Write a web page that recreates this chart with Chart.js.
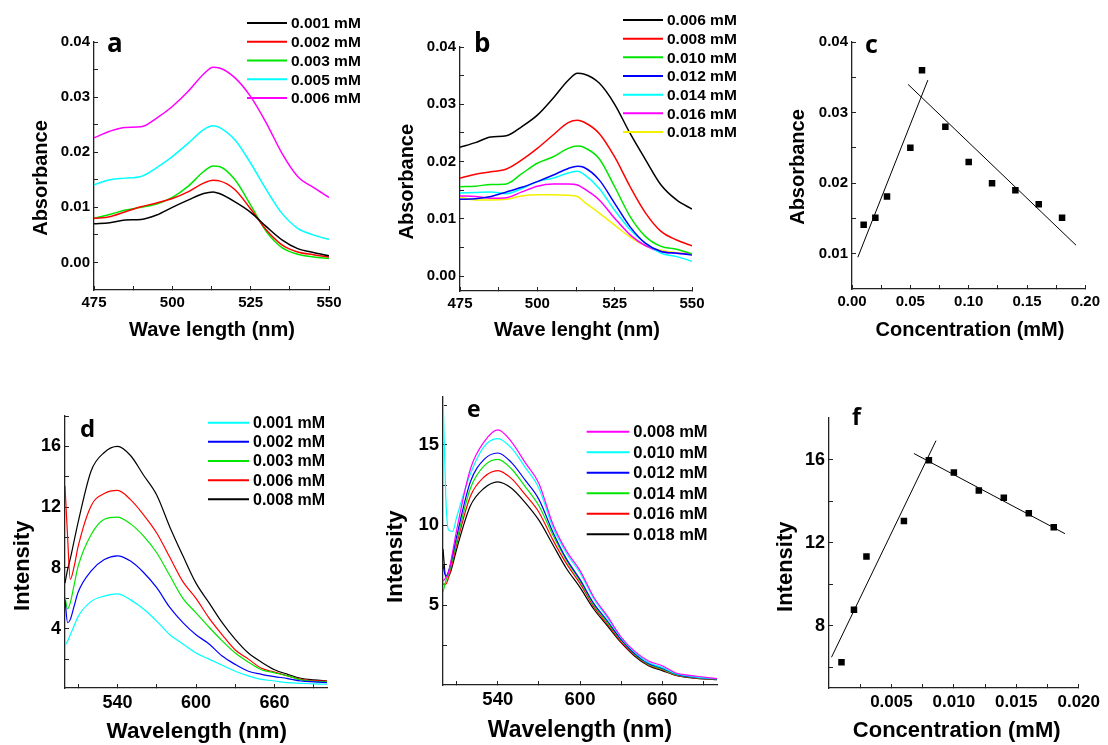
<!DOCTYPE html>
<html>
<head>
<meta charset="utf-8">
<script src="https://cdn.jsdelivr.net/npm/chart.js@4"></script>
<style>
    body {margin: 0; background: #fff;}
    #fig {position: relative; width: 1108px; height: 745px; overflow: hidden; background: #fff;}
    canvas {position: absolute;}
</style>
</head>
<body>
<div id="fig">
    <canvas id="pa" width="370" height="345" style="left:0;top:0"></canvas>
    <canvas id="pb" width="370" height="345" style="left:370px;top:0"></canvas>
    <canvas id="pc" width="368" height="345" style="left:740px;top:0"></canvas>
    <canvas id="pd" width="370" height="375" style="left:0;top:370px"></canvas>
    <canvas id="pe" width="370" height="375" style="left:370px;top:370px"></canvas>
    <canvas id="pf" width="368" height="375" style="left:740px;top:370px"></canvas>
</div>
<script>
const FONT = '"Liberation Sans", Arial, sans-serif';

// panel a / b : absorbance spectra
const wlAB = [475, 480, 485, 490, 495, 500, 505, 510, 513, 515, 520, 525, 530, 535, 540, 545, 550];
const a001 = [0.0070, 0.0072, 0.0077, 0.0078, 0.0086, 0.0100, 0.0113, 0.0125, 0.0128, 0.0125, 0.0110, 0.0091, 0.0065, 0.0041, 0.0025, 0.0018, 0.0012];
const a002 = [0.0080, 0.0083, 0.0092, 0.0101, 0.0108, 0.0116, 0.0128, 0.0144, 0.0149, 0.0148, 0.0132, 0.0097, 0.0059, 0.0032, 0.0019, 0.0014, 0.0010];
const a003 = [0.0080, 0.0087, 0.0095, 0.0100, 0.0106, 0.0118, 0.0138, 0.0165, 0.0175, 0.0174, 0.0150, 0.0104, 0.0056, 0.0027, 0.0015, 0.0010, 0.0007];
const a005 = [0.0141, 0.0150, 0.0153, 0.0156, 0.0172, 0.0192, 0.0216, 0.0241, 0.0248, 0.0245, 0.0222, 0.0180, 0.0132, 0.0089, 0.0062, 0.0050, 0.0042];
const a006 = [0.0226, 0.0238, 0.0245, 0.0246, 0.0262, 0.0283, 0.0310, 0.0342, 0.0354, 0.0353, 0.0335, 0.0301, 0.0253, 0.0198, 0.0156, 0.0136, 0.0118];

const b006 = [0.0225, 0.0233, 0.0243, 0.0245, 0.0261, 0.0281, 0.0310, 0.0342, 0.0354, 0.0353, 0.0337, 0.0300, 0.0249, 0.0203, 0.0159, 0.0133, 0.0117];
const b008 = [0.0171, 0.0178, 0.0182, 0.0187, 0.0203, 0.0223, 0.0246, 0.0268, 0.0272, 0.0269, 0.0249, 0.0208, 0.0156, 0.0110, 0.0078, 0.0063, 0.0053];
const b010 = [0.0156, 0.0157, 0.0160, 0.0161, 0.0179, 0.0197, 0.0208, 0.0223, 0.0227, 0.0225, 0.0205, 0.0156, 0.0104, 0.0069, 0.0052, 0.0047, 0.0039];
const b012 = [0.0134, 0.0135, 0.0139, 0.0147, 0.0155, 0.0165, 0.0176, 0.0188, 0.0192, 0.0190, 0.0168, 0.0127, 0.0086, 0.0057, 0.0043, 0.0040, 0.0037];
const b014 = [0.0145, 0.0146, 0.0147, 0.0144, 0.0153, 0.0165, 0.0171, 0.0180, 0.0183, 0.0178, 0.0153, 0.0115, 0.0081, 0.0057, 0.0040, 0.0034, 0.0026];
const b016 = [0.0140, 0.0139, 0.0136, 0.0137, 0.0147, 0.0157, 0.0161, 0.0161, 0.0159, 0.0153, 0.0133, 0.0101, 0.0072, 0.0053, 0.0043, 0.0040, 0.0039];
const b018 = [0.0138, 0.0133, 0.0133, 0.0134, 0.0140, 0.0142, 0.0142, 0.0141, 0.0139, 0.0130, 0.0110, 0.0089, 0.0068, 0.0053, 0.0045, 0.0041, 0.0039];

// panel c : absorbance vs concentration
const concC = [0.01, 0.02, 0.03, 0.05, 0.06, 0.08, 0.10, 0.12, 0.14, 0.16, 0.18];
const absC = [0.0141, 0.0151, 0.0181, 0.0250, 0.0360, 0.0280, 0.0230, 0.0200, 0.0190, 0.0170, 0.0151];
const fitC1x = [0.005, 0.065];
const fitC1y = [0.0095, 0.0346];
const fitC2x = [0.048, 0.192];
const fitC2y = [0.0340, 0.0112];

// panel d : emission spectra
const wlD = [500, 502, 504, 507, 510, 520, 530, 540, 550, 560, 570, 580, 590, 600, 610, 620, 630, 640, 650, 660, 670, 680, 690, 700];
const d001 = [2.9, 3.2, 3.6, 4.2, 4.8, 5.8, 6.15, 6.3, 5.9, 5.3, 4.5, 3.6, 3.0, 2.4, 2.0, 1.6, 1.2, 0.9, 0.67, 0.56, 0.45, 0.41, 0.37, 0.35];
const d002 = [5.9, 4.4, 4.6, 5.5, 6.4, 7.8, 8.55, 8.8, 8.45, 7.7, 6.7, 5.4, 4.4, 3.6, 3.0, 2.2, 1.65, 1.2, 1.0, 0.85, 0.72, 0.56, 0.5, 0.45];
const d003 = [6.1, 5.3, 5.7, 6.9, 8.1, 10.2, 11.2, 11.35, 10.9, 10.1, 9.0, 7.5, 6.0, 5.05, 4.1, 3.2, 2.4, 1.8, 1.3, 1.1, 0.9, 0.63, 0.54, 0.5];
const d006 = [13.4, 10.0, 7.25, 8.1, 9.4, 12.1, 12.9, 13.1, 12.5, 11.5, 10.3, 8.7, 7.1, 6.0, 4.7, 3.6, 2.6, 2.0, 1.4, 1.15, 0.9, 0.67, 0.58, 0.55];
const d008 = [7.0, 7.9, 8.6, 9.8, 11.0, 14.4, 15.6, 16.0, 15.4, 14.1, 12.8, 10.7, 8.8, 7.0, 5.7, 4.4, 3.3, 2.4, 1.8, 1.3, 1.0, 0.74, 0.63, 0.56];

// panel e : emission spectra
const wlE = [500, 502, 504, 507, 510, 520, 530, 540, 550, 560, 570, 580, 590, 600, 610, 620, 630, 640, 650, 660, 670, 680, 690, 700];
const e008 = [6.5, 6.7, 7.0, 8.3, 9.7, 13.5, 15.2, 15.95, 15.2, 13.9, 12.6, 10.1, 8.4, 7.15, 5.5, 4.3, 3.0, 2.1, 1.5, 1.2, 0.75, 0.6, 0.5, 0.4];
const e010 = [18.3, 11.8, 9.7, 9.6, 10.5, 13.2, 14.9, 15.4, 14.8, 13.6, 12.3, 9.9, 8.25, 7.0, 5.4, 4.2, 2.95, 2.05, 1.4, 1.1, 0.7, 0.55, 0.45, 0.4];
const e012 = [7.5, 6.8, 7.1, 8.1, 9.3, 12.7, 14.1, 14.5, 13.9, 12.8, 11.6, 9.6, 7.9, 6.6, 5.1, 4.0, 2.85, 1.95, 1.35, 1.05, 0.68, 0.52, 0.43, 0.38];
const e014 = [5.8, 6.5, 6.9, 7.9, 9.0, 12.3, 13.7, 14.1, 13.5, 12.4, 11.2, 9.4, 7.8, 6.5, 5.0, 3.9, 2.8, 1.9, 1.3, 1.0, 0.65, 0.5, 0.42, 0.37];
const e016 = [6.3, 6.3, 6.7, 7.7, 8.8, 11.8, 13.0, 13.4, 12.9, 11.9, 10.8, 9.1, 7.6, 6.35, 4.9, 3.8, 2.7, 1.85, 1.25, 0.95, 0.62, 0.48, 0.40, 0.35];
const e018 = [8.5, 6.8, 6.8, 7.5, 8.5, 11.2, 12.3, 12.7, 12.3, 11.4, 10.3, 8.8, 7.3, 6.1, 4.75, 3.7, 2.65, 1.8, 1.2, 0.9, 0.6, 0.46, 0.38, 0.33];

// panel f : intensity vs concentration
const concF = [0.001, 0.002, 0.003, 0.006, 0.008, 0.010, 0.012, 0.014, 0.016, 0.018];
const intF = [6.24, 8.77, 11.33, 13.04, 15.97, 15.38, 14.51, 14.16, 13.41, 12.74];
const fitF1x = [0.0002, 0.00857];
const fitF1y = [6.48, 16.91];
const fitF2x = [0.0068, 0.0189];
const fitF2y = [16.29, 12.43];

const BLACK = '#000000', RED = '#ff0000', GREEN = '#00e600', CYAN = '#00ffff',
    MAGENTA = '#ff00ff', BLUE = '#0000ff', YELLOW = '#f2f200';

function pts(xs, ys) {
    return xs.map((x, i) => ({x: x, y: ys[i]}));
}

function spectrum(label, color, xs, ys, width) {
    return {
        label: label,
        data: pts(xs, ys),
        borderColor: color,
        borderWidth: width,
        pointRadius: 0,
        fill: false,
        cubicInterpolationMode: 'monotone'
    }
}

function fitLine(xs, ys) {
    return {data: pts(xs, ys), borderColor: '#000', borderWidth: 1, pointRadius: 0, fill: false}
}

function squares(xs, ys) {
    return {
        type: 'scatter', data: pts(xs, ys), showLine: false,
        pointStyle: 'rect', pointRadius: 4.6, backgroundColor: '#000', borderWidth: 0
    }
}

function ticksWithMinor(major, extra) {
    let all = major.slice();
    for (let i = 1; i < major.length; i++) {
        all.push((major[i - 1] + major[i]) / 2);
    }
    return all.concat(extra).sort((p, q) => p - q);
}

function axis(pos, min, max, major, extra, digits, size, fit) {
    return {
        type: 'linear', position: pos, min: min, max: max,
        afterBuildTicks: s => {
            s.ticks = ticksWithMinor(major, extra).map(v => ({value: v}))
        },
        afterFit: s => {
            if (pos === 'left') s.width = fit; else s.height = fit;
        },
        grid: {drawOnChartArea: false, drawTicks: true, tickLength: -4, color: '#222', lineWidth: 1},
        border: {display: true, color: '#222', width: 1.3},
        ticks: {
            autoSkip: false, maxRotation: 0, minRotation: 0, padding: 8, color: '#000',
            font: {family: FONT, weight: 'bold', size: size},
            callback: v => major.some(m => Math.abs(m - v) < 1e-9) ? v.toFixed(digits) : ''
        }
    }
}

// titles, panel letter and line legend
const panelText = {
    id: 'panelText',
    afterDraw(chart, args, opts) {
        const ctx = chart.ctx;
        ctx.save();
        ctx.fillStyle = '#000';
        (opts.items || []).forEach(t => {
            ctx.save();
            ctx.font = 'bold ' + t.size + 'px ' + (t.fam || FONT);
            ctx.textAlign = t.align || 'center';
            ctx.textBaseline = 'alphabetic';
            ctx.translate(t.x, t.y);
            if (t.rot) ctx.rotate(-Math.PI / 2);
            ctx.fillText(t.text, 0, 0);
            ctx.restore();
        });
        const lg = opts.legend;
        if (lg) {
            let i = 0;
            chart.data.datasets.forEach(ds => {
                if (!ds.label) return;
                const y = lg.y + i * lg.dy;
                ctx.strokeStyle = ds.borderColor;
                ctx.lineWidth = 2;
                ctx.beginPath();
                ctx.moveTo(lg.x, y);
                ctx.lineTo(lg.x + lg.len, y);
                ctx.stroke();
                ctx.font = 'bold ' + lg.size + 'px ' + FONT;
                ctx.textAlign = 'left';
                ctx.textBaseline = 'middle';
                ctx.fillStyle = '#000';
                ctx.fillText(ds.label, lg.x + lg.len + 4, y + 1);
                i++;
            });
        }
        ctx.restore();
    }
};

function panel(tag, datasets, xAxis, yAxis, pad, items, legend) {
    new Chart(document.getElementById(tag).getContext('2d'), {
        type: 'line',
        data: {datasets: datasets},
        options: {
            responsive: false,
            animation: false,
            devicePixelRatio: 1,
            layout: {padding: {left: 0, top: pad[0], right: pad[1], bottom: 0}},
            scales: {x: xAxis, y: yAxis},
            plugins: {
                legend: {display: false},
                tooltip: {enabled: false},
                panelText: {items: items, legend: legend}
            }
        },
        plugins: [panelText]
    });
}

panel('pa', [
        spectrum('0.001 mM', BLACK, wlAB, a001, 1.5),
        spectrum('0.002 mM', RED, wlAB, a002, 1.5),
        spectrum('0.003 mM', GREEN, wlAB, a003, 1.5),
        spectrum('0.005 mM', CYAN, wlAB, a005, 1.5),
        spectrum('0.006 mM', MAGENTA, wlAB, a006, 1.5)
    ],
    axis('bottom', 475, 550, [475, 500, 525, 550], [], 0, 15, 55),
    axis('left', -0.005, 0.04, [0, 0.01, 0.02, 0.03, 0.04], [], 2, 15, 94),
    [42, 41],
    [
        {text: 'a', x: 107, y: 52, size: 26, align: 'left', fam: '"Open Sans", sans-serif'},
        {text: 'Absorbance', x: 46.5, y: 178, size: 20, rot: true},
        {text: 'Wave length (nm)', x: 212, y: 336, size: 20}
    ],
    {x: 247, y: 23, dy: 18.75, len: 40, size: 15.5}
);

panel('pb', [
        spectrum('0.006 mM', BLACK, wlAB, b006, 1.5),
        spectrum('0.008 mM', RED, wlAB, b008, 1.5),
        spectrum('0.010 mM', GREEN, wlAB, b010, 1.5),
        spectrum('0.012 mM', BLUE, wlAB, b012, 1.5),
        spectrum('0.014 mM', CYAN, wlAB, b014, 1.5),
        spectrum('0.016 mM', MAGENTA, wlAB, b016, 1.5),
        spectrum('0.018 mM', YELLOW, wlAB, b018, 1.5)
    ],
    axis('bottom', 475, 550, [475, 500, 525, 550], [], 0, 15, 54),
    axis('left', -0.0026, 0.04, [0, 0.01, 0.02, 0.03, 0.04], [], 2, 15, 90),
    [47, 48],
    [
        {text: 'b', x: 104, y: 52, size: 26, align: 'left', fam: '"Open Sans", sans-serif'},
        {text: 'Absorbance', x: 43, y: 181.7, size: 20, rot: true},
        {text: 'Wave lenght (nm)', x: 207, y: 336, size: 20}
    ],
    {x: 253, y: 20, dy: 18.67, len: 40, size: 15.5}
);

panel('pc', [
        squares(concC, absC),
        fitLine(fitC1x, fitC1y),
        fitLine(fitC2x, fitC2y)
    ],
    axis('bottom', 0, 0.2, [0, 0.05, 0.10, 0.15, 0.20], [], 2, 15, 56),
    axis('left', 0.005, 0.04, [0.01, 0.02, 0.03, 0.04], [], 2, 15, 112),
    [42, 21],
    [
        {text: 'c', x: 125, y: 53, size: 25, align: 'left', fam: '"Open Sans", sans-serif'},
        {text: 'Absorbance', x: 64, y: 167, size: 20, rot: true},
        {text: 'Concentration (mM)', x: 230, y: 336, size: 20}
    ],
    null
);

panel('pd', [
        spectrum('0.001 mM', CYAN, wlD, d001, 1.2),
        spectrum('0.002 mM', BLUE, wlD, d002, 1.2),
        spectrum('0.003 mM', GREEN, wlD, d003, 1.2),
        spectrum('0.006 mM', RED, wlD, d006, 1.2),
        spectrum('0.008 mM', BLACK, wlD, d008, 1.2)
    ],
    axis('bottom', 500, 700, [540, 600, 660], [510, 690], 0, 18, 57),
    axis('left', 0.1, 18, [4, 8, 12, 16], [2, 18], 0, 18, 65),
    [46, 43],
    [
        {text: 'd', x: 80, y: 67, size: 24, align: 'left', fam: '"Open Sans", sans-serif'},
        {text: 'Intensity', x: 29, y: 195.7, size: 22, rot: true},
        {text: 'Wavelength (nm)', x: 196.7, y: 368, size: 22.5}
    ],
    {x: 208, y: 52.7, dy: 19.15, len: 41, size: 16}
);

panel('pe', [
        spectrum('0.008 mM', MAGENTA, wlE, e008, 1.2),
        spectrum('0.010 mM', CYAN, wlE, e010, 1.2),
        spectrum('0.012 mM', BLUE, wlE, e012, 1.2),
        spectrum('0.014 mM', GREEN, wlE, e014, 1.2),
        spectrum('0.016 mM', RED, wlE, e016, 1.2),
        spectrum('0.018 mM', BLACK, wlE, e018, 1.2)
    ],
    axis('bottom', 500, 700, [540, 600, 660], [510, 690], 0, 18.5, 60),
    axis('left', 0, 18, [5, 10, 15], [2.5, 17.5], 0, 18.5, 73),
    [27, 23],
    [
        {text: 'e', x: 97, y: 47, size: 23, align: 'left', fam: '"Open Sans", sans-serif'},
        {text: 'Intensity', x: 32, y: 186.7, size: 22.5, rot: true},
        {text: 'Wavelength (nm)', x: 210, y: 367, size: 23}
    ],
    {x: 216.7, y: 61.7, dy: 20.5, len: 42.6, size: 16.5}
);

panel('pf', [
        squares(concF, intF),
        fitLine(fitF1x, fitF1y),
        fitLine(fitF2x, fitF2y)
    ],
    axis('bottom', 0, 0.02, [0.005, 0.010, 0.015, 0.020], [0.0025], 3, 17, 57),
    axis('left', 5, 18, [8, 12, 16], [6], 0, 18, 89),
    [48, 24],
    [
        {text: 'f', x: 112, y: 55, size: 23, align: 'left', fam: '"Open Sans", sans-serif'},
        {text: 'Intensity', x: 52, y: 196.7, size: 22, rot: true},
        {text: 'Concentration (mM)', x: 216.7, y: 367, size: 22}
    ],
    null
);
</script>
</body>
</html>
